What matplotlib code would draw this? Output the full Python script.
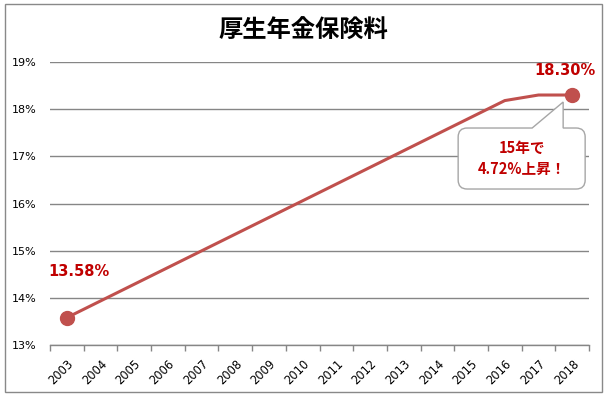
import matplotlib.pyplot as plt
import numpy as np
from matplotlib.patches import Rectangle, PathPatch
from matplotlib.path import Path

# data
years = ['2003', '2004', '2005', '2006', '2007', '2008', '2009', '2010',
         '2011', '2012', '2013', '2014', '2015', '2016', '2017', '2018']
rates = [13.58, 13.934, 14.288, 14.642, 14.996, 15.35, 15.704, 16.058,
         16.412, 16.766, 17.12, 17.474, 17.828, 18.182, 18.3, 18.3]
title = '厚生年金保険料'
note = '15年で\n4.72%上昇！'

line_color = '#C0504D'
text_color = '#C00000'
grid_color = '#868686'
jp_font = ['Noto Sans CJK JP', 'DejaVu Sans']

fig = plt.figure(figsize=(6.07, 3.98), dpi=100)
ax = fig.add_axes([50 / 607, 53 / 398, 539 / 607, 283 / 398])

x = np.arange(len(years))
ax.plot(x, rates, '-', color=line_color, linewidth=2.2, zorder=3)
ax.plot([x[0], x[-1]], [rates[0], rates[-1]], 'o', color=line_color,
        markersize=10, zorder=4)

ax.set_xlim(-0.5, len(years) - 0.5)
ax.set_ylim(13, 19)
ax.set_yticks(np.arange(13, 20))
ax.set_yticklabels(['%d%%' % v for v in range(13, 20)], fontsize=8,
                   family='DejaVu Sans')
ax.set_xticks(x)
ax.set_xticklabels(years, rotation=45, ha='right', rotation_mode='anchor',
                   fontsize=8.3, family='DejaVu Sans')
ax.set_xticks(np.arange(len(years) + 1) - 0.5, minor=True)
ax.tick_params(axis='x', which='major', length=0, pad=9)
ax.tick_params(axis='x', which='minor', length=4, color=grid_color, width=1)
ax.tick_params(axis='y', length=0, pad=10)

ax.grid(axis='y', color=grid_color, linewidth=1)
ax.set_axisbelow(True)
for s in ['left', 'right', 'top']:
    ax.spines[s].set_visible(False)
ax.spines['bottom'].set_color(grid_color)
ax.spines['bottom'].set_linewidth(1)

# value labels
ax.text(x[0] + 0.36, rates[0] + 0.97, '%.2f%%' % rates[0], color=text_color,
        fontsize=10.5, fontweight='bold', ha='center', va='center',
        family='DejaVu Sans')
ax.text(x[-1] - 0.2, rates[-1] + 0.53, '%.2f%%' % rates[-1], color=text_color,
        fontsize=10.5, fontweight='bold', ha='center', va='center',
        family='DejaVu Sans')

# callout box with pointer to last point
px_x = 539 / 16   # pixels per category
px_y = 283 / 6    # pixels per percent
x0 = x[-1] + (458 - 572) / px_x
x1 = x[-1] + (585 - 572) / px_x
y_top = rates[-1] - (128 - 95) / px_y
y_bot = rates[-1] - (189 - 95) / px_y
rx, ry = 9 / px_x, 9 / px_y
w0 = x[-1] + (532 - 572) / px_x
w1 = x[-1] + (563 - 572) / px_x
tip = (x[-1] + (563 - 572) / px_x, rates[-1] - (102 - 95) / px_y)
verts = [
    (x0 + rx, y_top), (w0, y_top), tip, (w1, y_top), (x1 - rx, y_top),
    (x1, y_top), (x1, y_top - ry),
    (x1, y_bot + ry), (x1, y_bot), (x1 - rx, y_bot),
    (x0 + rx, y_bot), (x0, y_bot), (x0, y_bot + ry),
    (x0, y_top - ry), (x0, y_top), (x0 + rx, y_top),
]
codes = [Path.MOVETO, Path.LINETO, Path.LINETO, Path.LINETO, Path.LINETO,
         Path.CURVE3, Path.CURVE3,
         Path.LINETO, Path.CURVE3, Path.CURVE3,
         Path.LINETO, Path.CURVE3, Path.CURVE3,
         Path.LINETO, Path.CURVE3, Path.CURVE3]
ax.add_patch(PathPatch(Path(verts, codes), facecolor='white',
                       edgecolor='#A6A6A6', linewidth=1, zorder=5,
                       clip_on=False))
ax.text((x0 + x1) / 2, (y_top + y_bot) / 2, note, color=text_color,
        fontsize=10.5, fontweight='bold', ha='center', va='center',
        family=jp_font, linespacing=1.4, zorder=6)

# title and border
fig.text(0.5, 1 - 31 / 398, title, fontsize=17.5, fontweight='bold',
         ha='center', va='center', family=jp_font)
fig.add_artist(Rectangle((5 / 607, 6 / 398), 597 / 607, 388 / 398,
                         transform=fig.transFigure, fill=False,
                         edgecolor='#898989', linewidth=1))

plt.savefig('out.png', dpi=100)
